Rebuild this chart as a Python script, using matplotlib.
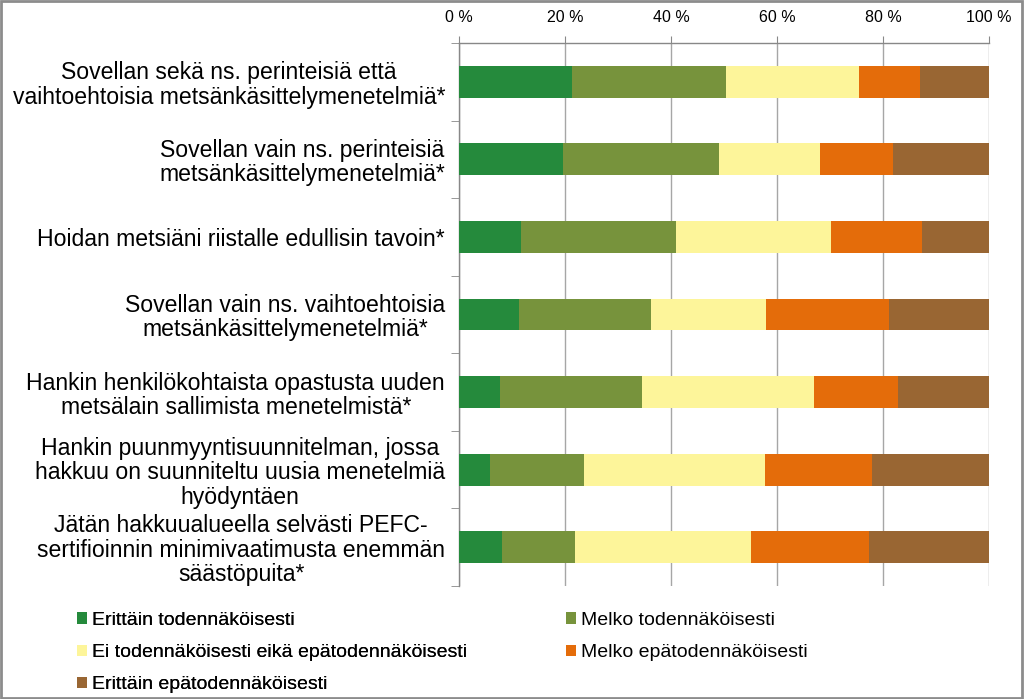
import matplotlib
matplotlib.use("Agg")
import matplotlib.pyplot as plt
import numpy as np
from matplotlib.patches import Rectangle, Patch

categories = [
    "Sovellan sekä ns. perinteisiä että\nvaihtoehtoisia metsänkäsittelymenetelmiä*",
    "Sovellan vain ns. perinteisiä\nmetsänkäsittelymenetelmiä*",
    "Hoidan metsiäni riistalle edullisin tavoin*",
    "Sovellan vain ns. vaihtoehtoisia\nmetsänkäsittelymenetelmiä*",
    "Hankin henkilökohtaista opastusta uuden\nmetsälain sallimista menetelmistä*",
    "Hankin puunmyyntisuunnitelman, jossa\nhakkuu on suunniteltu uusia menetelmiä\nhyödyntäen",
    "Jätän hakkuualueella selvästi PEFC-\nsertifioinnin minimivaatimusta enemmän\nsäästöpuita*",
]
series_names = [
    "Erittäin todennäköisesti",
    "Melko todennäköisesti",
    "Ei todennäköisesti eikä epätodennäköisesti",
    "Melko epätodennäköisesti",
    "Erittäin epätodennäköisesti",
]
erittain_tod = [21.4, 19.6, 11.7, 11.3, 7.8, 5.8, 8.1]
melko_tod = [29.0, 29.4, 29.2, 25.0, 26.8, 17.8, 13.8]
ei_kumpikaan = [25.1, 19.2, 29.3, 21.6, 32.3, 34.1, 33.1]
melko_epatod = [11.4, 13.7, 17.1, 23.3, 16.0, 20.2, 22.4]
erittain_epatod = [13.1, 18.1, 12.7, 18.8, 17.1, 22.1, 22.6]
x_ticks = [0, 20, 40, 60, 80, 100]
x_tick_labels = ["0 %", "20 %", "40 %", "60 %", "80 %", "100 %"]

colors = ["#258A3C", "#77933C", "#FDF59A", "#E46C0A", "#996633"]
series = [erittain_tod, melko_tod, ei_kumpikaan, melko_epatod, erittain_epatod]

fig = plt.figure(figsize=(10.24, 6.99), dpi=100)
W, H = 1024, 699
ax = fig.add_axes([459 / W, 1 - 586 / H, (989 - 459) / W, (586 - 43) / H])

y = np.arange(len(categories))
left = np.zeros(len(categories))
for vals, col in zip(series, colors):
    ax.barh(y, vals, left=left, height=0.41, color=col, zorder=3, linewidth=0)
    left += np.array(vals)

ax.set_xlim(0, 100)
ax.set_ylim(len(categories) - 0.5, -0.5)
ax.xaxis.tick_top()
ax.set_xticks(x_ticks)
ax.set_xticklabels(x_tick_labels, fontsize=11.5, family="Liberation Sans")
ax.tick_params(axis="x", length=5, color="#888888", pad=8)
ax.xaxis.grid(True, color="#A6A6A6", linewidth=1, zorder=0)

ax.set_yticks(y)
ax.set_yticklabels(categories, fontsize=16.6, family="Liberation Sans",
                   multialignment="center", linespacing=1.08)
ax.tick_params(axis="y", which="major", length=0, pad=10)
ax.set_yticks(np.arange(-0.5, len(categories), 1), minor=True)
ax.tick_params(axis="y", which="minor", length=6, color="#888888")

for s in ["right", "bottom"]:
    ax.spines[s].set_visible(False)
for s in ["top", "left"]:
    ax.spines[s].set_color("#888888")
    ax.spines[s].set_linewidth(1)

handles = [Patch(facecolor=c, edgecolor="none") for c in colors]
lp = dict(frameon=False, handlelength=0.52, handleheight=0.52, handletextpad=0.25,
          labelspacing=0.78, prop={"family": "Liberation Sans", "size": 14},
          borderaxespad=0, borderpad=0)
leg1 = fig.legend([handles[0], handles[2], handles[4]],
                  [series_names[0], series_names[2], series_names[4]],
                  loc="upper left", bbox_to_anchor=(77 / W, 1 - 612 / H), **lp)
fig.add_artist(leg1)
fig.legend([handles[1], handles[3]], [series_names[1], series_names[3]],
           loc="upper left", bbox_to_anchor=(566 / W, 1 - 612 / H), **lp)

fig.patches.append(Rectangle((0.001, 0.001), 0.997, 0.997, transform=fig.transFigure,
                             fill=False, edgecolor="#8C8C8C", linewidth=2))

fig.savefig("out.png", dpi=100)
